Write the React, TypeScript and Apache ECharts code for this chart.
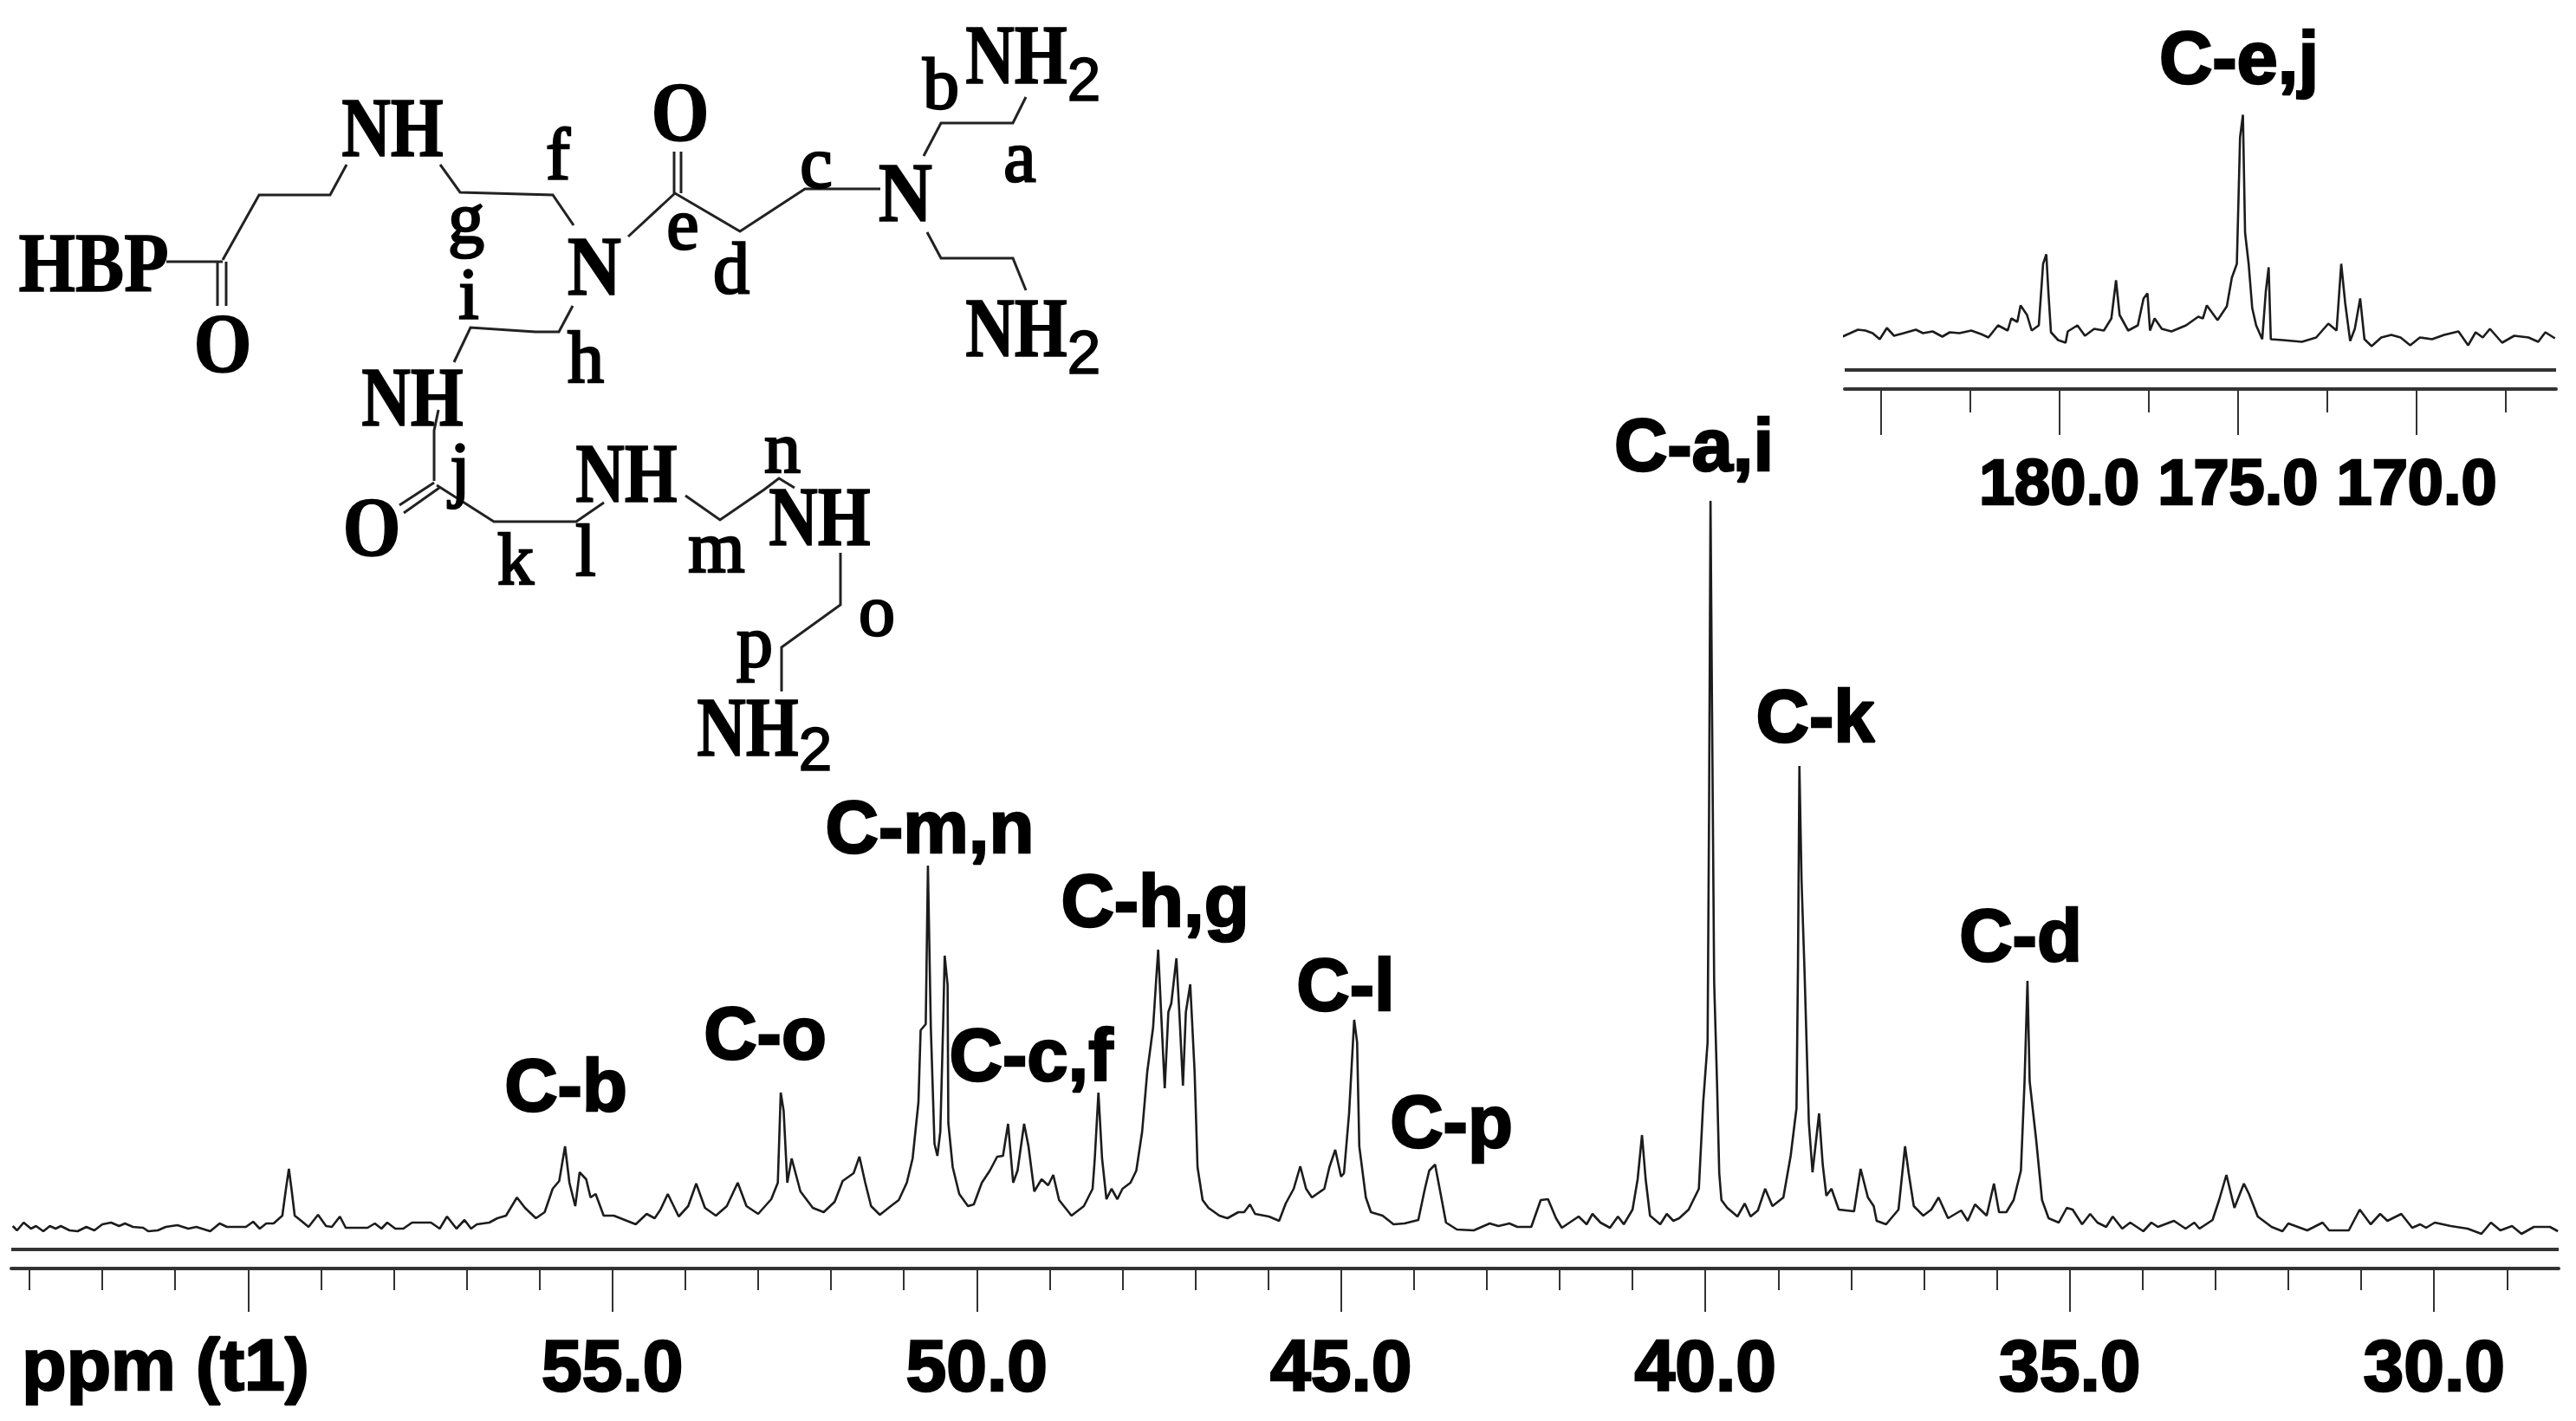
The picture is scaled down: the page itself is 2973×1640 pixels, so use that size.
import React, { useEffect, useRef } from "react";
import * as echarts from "echarts";

// --- Chart values: [ppm, relative intensity] ---
const mainSpectrum6052: number[][] = [
  [63.23,3],[63.17,-2],[63.08,7],[62.98,0],[62.91,3],[62.81,-3],[62.72,3],[62.64,0],[62.57,3],[62.45,-2],[62.34,-3],[62.22,2],[62.11,-2],[62.0,5],[61.88,7],[61.77,3],[61.69,6],[61.58,2],[61.44,1],[61.37,-3],[61.24,-2],[61.13,2],[60.97,4],[60.82,0],[60.71,2],[60.52,-3],[60.39,6],[60.29,2],[60.03,2],[59.93,8],[59.84,0],[59.75,6],[59.65,6],[59.53,15],[59.48,46],[59.44,69],[59.4,43],[59.36,15],[59.27,9],[59.17,2],[59.04,16],[58.93,3],[58.85,2],[58.74,14],[58.66,1],[58.36,1],[58.26,6],[58.17,0],[58.09,7],[57.98,0],[57.87,0],[57.75,7],[57.49,7],[57.37,0],[57.27,14],[57.14,0],[57.03,10],[56.94,0],[56.86,5],[56.69,7],[56.58,12],[56.46,15],[56.31,36],[56.2,24],[56.05,12],[55.93,19],[55.82,46],[55.73,55],[55.65,95],[55.59,53],[55.51,26],[55.45,65],[55.36,57],[55.3,36],[55.23,40],[55.12,15],[54.98,15],[54.83,10],[54.68,5],[54.53,17],[54.42,12],[54.34,22],[54.24,40],[54.09,14],[53.96,26],[53.85,52],[53.73,24],[53.58,15],[53.43,26],[53.28,53],[53.16,26],[53.0,17],[52.82,34],[52.73,53],[52.69,157],[52.65,136],[52.6,53],[52.54,81],[52.42,43],[52.25,24],[52.1,19],[51.95,31],[51.84,55],[51.69,64],[51.61,83],[51.53,53],
];
const mainSpectrum5140: number[][] = [
  [51.45,26],[51.33,16],[51.18,26],[51.07,33],[50.96,53],[50.88,81],[50.8,146],[50.77,229],[50.7,236],[50.67,419],[50.63,232],[50.58,98],[50.54,84],[50.5,112],[50.46,239],[50.44,315],[50.4,281],[50.39,122],[50.33,71],[50.24,40],[50.12,26],[50.04,28],[49.93,53],[49.82,67],[49.72,83],[49.64,84],[49.57,121],[49.5,53],[49.44,67],[49.35,121],[49.29,95],[49.21,43],[49.11,57],[49.02,50],[48.95,62],[48.87,33],[48.7,15],[48.53,26],[48.41,46],[48.38,81],[48.33,157],[48.28,81],[48.22,34],[48.15,46],[48.07,34],[48.0,46],[47.89,53],[47.81,67],[47.73,112],[47.66,181],[47.58,232],[47.54,284],[47.51,322],[47.47,250],[47.42,162],[47.37,250],[47.33,260],[47.26,312],[47.22,250],[47.17,165],[47.13,250],[47.07,282],[47.01,181],[46.97,71],[46.9,33],[46.82,24],[46.67,15],[46.56,12],[46.41,19],[46.33,19],[46.25,28],[46.18,17],[45.99,14],[45.85,9],[45.76,29],[45.65,46],[45.56,72],[45.48,46],[45.4,36],[45.23,46],[45.16,71],[45.08,91],[45.0,60],[44.96,64],[44.89,133],[44.82,241],[44.78,215],[44.75,95],[44.66,36],[44.59,19],[44.43,15],[44.28,5],[44.13,6],[43.94,10],[43.85,46],[43.79,67],[43.71,74],[43.64,43],[43.56,7],[43.41,-1],[43.18,-2],[42.96,6],[42.84,3],[42.69,6],[42.58,2],[42.39,2],[42.26,33],[42.16,34],[42.05,12],[41.97,1],[41.74,14],[41.63,5],[41.55,17],[41.44,7],[41.31,1],[41.2,14],[41.12,5],[41.0,22],[40.93,57],[40.87,108],[40.82,57],[40.76,15],[40.62,5],[40.53,17],[40.44,9],[40.36,12],[40.23,22],[40.09,46],[40.03,146],
];
const mainSpectrum4035: number[][] = [
  [39.97,215],[39.95,480],[39.93,840],[39.91,610],[39.88,285],[39.84,167],[39.81,64],[39.78,33],[39.7,24],[39.56,14],[39.46,29],[39.38,14],[39.28,21],[39.18,46],[39.08,26],[38.93,36],[38.83,84],[38.75,139],[38.73,300],[38.71,534],[38.68,400],[38.64,298],[38.58,122],[38.53,65],[38.44,133],[38.39,74],[38.34,38],[38.27,46],[38.17,22],[37.96,20],[37.87,69],[37.77,36],[37.69,26],[37.65,9],[37.52,5],[37.35,22],[37.26,95],[37.21,64],[37.14,26],[37.01,15],[36.9,22],[36.8,36],[36.67,12],[36.49,21],[36.4,9],[36.3,28],[36.14,15],[36.04,52],[35.97,19],[35.87,19],[35.77,33],[35.67,67],[35.62,170],[35.58,286],[35.55,170],[35.46,102],[35.38,33],[35.29,12],
];
const mainSpectrum3528: number[][] = [
  [35.15,7],[35.04,24],[34.96,22],[34.83,5],[34.72,17],[34.62,7],[34.5,2],[34.41,14],[34.28,0],[34.17,7],[33.99,-3],[33.88,7],[33.79,2],[33.57,9],[33.41,0],[33.29,7],[33.22,0],[33.04,10],[32.95,33],[32.85,62],[32.74,24],[32.61,52],[32.54,40],[32.42,14],[32.23,2],[32.08,-3],[32.0,6],[31.74,-2],[31.53,7],[31.44,-2],[31.17,-2],[31.02,22],[30.87,5],[30.74,17],[30.64,9],[30.45,17],[30.3,1],[30.19,5],[30.11,1],[29.99,7],[29.77,3],[29.54,0],[29.35,-6],[29.22,7],[29.09,-2],[28.93,3],[28.8,-6],[28.63,2],[28.41,2],[28.3,-3],
];
const insetSpectrum: number[][] = [
  [186.06,1],[185.9,4],[185.63,9],[185.42,8],[185.22,5],[185.02,-2],[184.82,11],[184.62,2],[184.35,5],[184.01,9],[183.81,5],[183.54,7],[183.27,1],[183.06,6],[182.79,5],[182.46,8],[182.19,4],[181.98,0],[181.71,14],[181.44,8],[181.34,22],[181.17,18],[181.08,37],[180.9,26],[180.77,8],[180.57,14],[180.45,85],[180.36,96],[180.3,51],[180.23,6],[180.03,-3],[179.82,-6],[179.76,7],[179.49,14],[179.28,2],[179.02,10],[178.75,8],[178.54,22],[178.41,66],[178.31,26],[178.07,8],[177.8,14],[177.64,45],[177.53,51],[177.46,8],[177.33,22],[177.13,10],[176.86,7],[176.45,14],[176.11,24],[175.98,22],[175.87,37],[175.57,20],[175.31,36],[175.17,69],[175.03,85],[174.94,231],[174.86,257],[174.8,121],[174.7,85],[174.6,34],[174.49,14],[174.32,-2],[174.22,53],[174.14,81],[174.08,-2],[173.75,-3],[173.21,-5],[172.81,0],[172.47,16],[172.24,8],[172.11,85],[172.0,40],[171.86,-4],[171.73,10],[171.58,45],[171.46,-2],[171.26,-10],[170.99,0],[170.71,3],[170.45,0],[170.18,-9],[169.91,0],[169.57,-2],[169.23,3],[168.83,7],[168.56,-9],[168.35,6],[168.15,0],[167.95,10],[167.61,-6],[167.27,2],[166.87,0],[166.6,-5],[166.4,6],[166.13,-1],
];

const mainMajorTicks = [60, 55, 50, 45, 40, 35, 30];
const mainMinorTicks = [63,62,61,59,58,57,56,54,53,52,51,49,48,47,46,44,43,42,41,39,38,37,36,34,33,32,31,29];
const mainTickLabels = [55, 50, 45, 40, 35, 30];
const insetMajorTicks = [185, 180, 175, 170];
const insetMinorTicks = [182.5, 177.5, 172.5, 167.5];
const insetTickLabels = [180, 175, 170];

const peakLabels = ["C-b", "C-o", "C-m,n", "C-c,f", "C-h,g", "C-l", "C-p", "C-a,i", "C-k", "C-d", "C-e,j"];
const axisUnitLabel = "ppm (t1)";

// --- Layout (pixels) ---
const peakLabelPos = [[653,1252],[883,1192],[1073,954],[1190,1217],[1333,1039],[1553,1136],[1675,1294],[1955,513],[2095,826],[2332,1079],[2584,66]];

const structureTexts: [string, number, number][] = [
  ["HBP",108,303],["NH",453,147],["NH",1173,63],["NH",1173,378],["NH",476,458],["NH",723,546],["NH",946,596],["NH",863,839],
  ["O",785,129],["O",257,396],["O",429,608],["N",1045,222],["N",686,307],
];
const structureLetters: [string, number, number][] = [
  ["a",1177,180],["b",1086,96],["c",942,187],["d",844,309],["e",788,258],["f",644,177],["g",538,251],["h",676,412],["i",541,339],
  ["j",531,540],["k",595,645],["l",676,635],["m",827,631],["n",903,516],["o",1012,704],["p",871,740],
];
const structureSubs: [string, number, number][] = [["2",1251,92],["2",1251,407],["2",941,865]];
const bonds: number[][][] = [
  [[192,302],[257,302]],[[251,302],[251,353]],[[261,302],[261,353]],
  [[257,300],[299,225],[381,225],[400,190]],
  [[508,190],[531,222],[638,225],[662,260]],
  [[725,273],[779,223],[854,267],[929,218],[1016,218]],
  [[778,175],[778,223]],[[786,175],[786,223]],
  [[1066,180],[1086,142],[1169,142],[1184,112]],
  [[1070,268],[1086,298],[1169,298],[1184,335]],
  [[661,353],[645,383],[618,383],[543,378],[524,418]],
  [[506,473],[501,497],[501,555]],
  [[501,557],[461,583]],[[507,563],[466,592]],
  [[504,560],[570,602],[665,602],[697,580]],
  [[791,572],[831,600],[882,565],[899,552],[917,563]],
  [[970,638],[970,698],[902,747],[902,798]],
];

const SANS = "'Liberation Sans', Arial, sans-serif";
const SERIF = "'Liberation Serif', 'Times New Roman', serif";
const INK = "#1c1c1c";

function txt(text: string, x: number, y: number, fontSize: number, fontFamily: string, fontWeight: string, stroke = 0, scaleX = 1): any {
  return {
    type: "text", x, y, z: 10, scaleX,
    style: {
      text, fontSize, fontFamily, fontWeight, fill: "#000",
      align: "center", verticalAlign: "middle", textAlign: "center", textVerticalAlign: "middle",
      stroke: stroke ? "#000" : undefined, lineWidth: stroke,
    },
  };
}

function axisPair(gridIndex: number, min: number, max: number, major: number[], minor: number[], labels: number[], fontSize: number, margin: number, majorLen: number, minorLen: number): any[] {
  return [
    {
      type: "value", gridIndex, min, max, inverse: true, position: "bottom", splitLine: { show: false },
      axisLine: { show: true, onZero: false, lineStyle: { color: "#333", width: 4 } },
      axisTick: { show: true, inside: false, length: majorLen, customValues: major, lineStyle: { color: "#333", width: 2 } },
      axisLabel: {
        show: true, customValues: labels, margin, fontSize, fontWeight: "bold", fontFamily: SANS, color: "#000",
        textBorderColor: "#000", textBorderWidth: 2.5,
        formatter: (v: number) => v.toFixed(1),
      },
    },
    {
      type: "value", gridIndex, min, max, inverse: true, position: "bottom", splitLine: { show: false },
      axisLine: { show: false, onZero: false },
      axisTick: { show: true, inside: false, length: minorLen, customValues: minor, lineStyle: { color: "#333", width: 2 } },
      axisLabel: { show: false },
    },
  ];
}

export default function App() {
  const ref = useRef<HTMLDivElement>(null);
  useEffect(() => {
    const chart = echarts.init(ref.current!, undefined, { renderer: "svg" });
    const mainData = [...mainSpectrum6052, ...mainSpectrum5140, ...mainSpectrum4035, ...mainSpectrum3528];
    const mainMin = 28.29, mainMax = 63.25, insetMin = 166.1, insetMax = 186.0;
    const peakLine = { color: INK, width: 2.6 };
    chart.setOption({
      animation: false,
      backgroundColor: "#fff",
      grid: [
        { left: 13, right: 20, top: 500, bottom: 176, containLabel: false },
        { left: 2129, right: 23, top: 100, bottom: 1191, containLabel: false },
      ],
      xAxis: [
        ...axisPair(0, mainMin, mainMax, mainMajorTicks, mainMinorTicks, mainTickLabels, 84, 70, 50, 25),
        ...axisPair(1, insetMin, insetMax, insetMajorTicks, insetMinorTicks, insetTickLabels, 74, 70, 53, 27),
      ],
      yAxis: [
        { type: "value", gridIndex: 0, min: -46, max: 918, show: false },
        { type: "value", gridIndex: 1, min: -59.5, max: 289.5, show: false },
      ],
      series: [
        { type: "line", xAxisIndex: 0, yAxisIndex: 0, data: mainData, symbol: "none", lineStyle: peakLine, silent: true },
        { type: "line", xAxisIndex: 2, yAxisIndex: 1, data: insetSpectrum, symbol: "none", lineStyle: peakLine, silent: true },
        { type: "line", xAxisIndex: 0, yAxisIndex: 0, data: [[mainMax, -24], [mainMin, -24]], symbol: "none", lineStyle: { color: "#333", width: 4 }, silent: true },
        { type: "line", xAxisIndex: 2, yAxisIndex: 1, data: [[insetMax, -37.5], [insetMin, -37.5]], symbol: "none", lineStyle: { color: "#333", width: 4 }, silent: true },
      ],
      graphic: [
        ...peakLabels.map((t, i) => txt(t, peakLabelPos[i][0], peakLabelPos[i][1], 85, SANS, "bold", 2.5)),
        txt(axisUnitLabel, 191, 1575, 84, SANS, "bold", 2.5),
        ...bonds.map((pts) => ({ type: "polyline", z: 5, shape: { points: pts }, style: { stroke: "#222", lineWidth: 3, fill: "none" } })),
        ...structureTexts.map(([t, x, y]) => txt(t, x, y, 98, SERIF, "bold", 1.5, t === "NH" ? 0.8 : t === "HBP" ? 0.86 : 0.88)),
        ...structureLetters.map(([t, x, y]) => txt(t, x, y, 84, SERIF, "normal", 2.5)),
        ...structureSubs.map(([t, x, y]) => txt(t, x, y, 70, SANS, "normal", 1.5)),
      ],
    });
    return () => chart.dispose();
  }, []);
  return <div ref={ref} style={{ position: "absolute", left: 0, top: 0, width: 2973, height: 1640 }} />;
}
